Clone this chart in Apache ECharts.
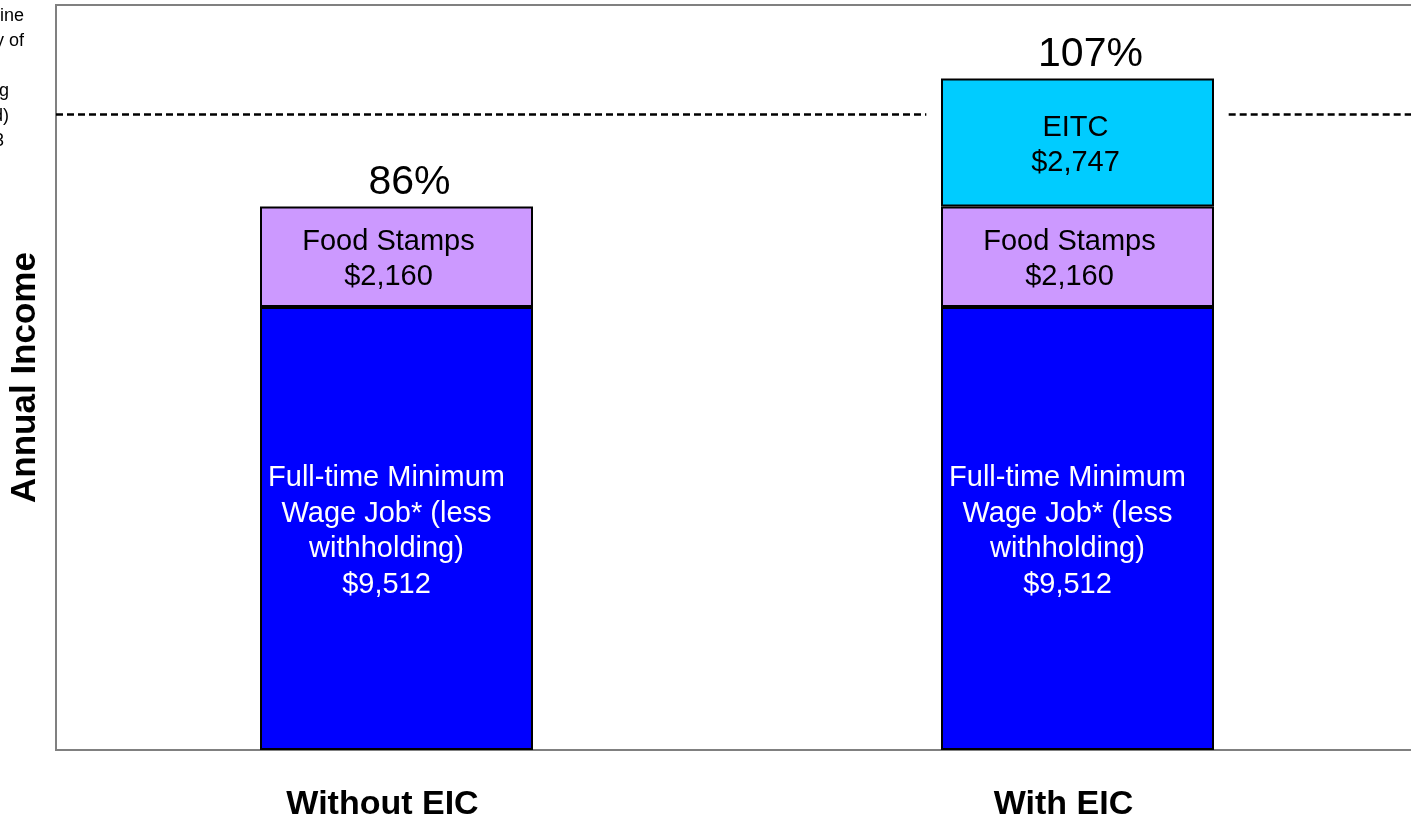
<!DOCTYPE html>
<html>
<head>
<meta charset="utf-8">
<script src="https://cdn.jsdelivr.net/npm/echarts@6/dist/echarts.min.js"></script>
<style>
  html, body { margin: 0; padding: 0; background: #fff; }
  #chart { width: 1411px; height: 818px; }
</style>
</head>
<body>
<div id="chart"></div>
<script>
// data
var categories = ['Without EIC', 'With EIC']
var wageJob = [9512, 9512]
var foodStamps = [2160, 2160]
var eitc = [0, 2747]
var totalPct = ['86%', '107%']
var povertyLine = 13650
// dashed line is broken around the second bar (x in category units, 0..2)
var povertyLeft = [[0, povertyLine], [1.278, povertyLine]]
var povertyRight = [[1.722, povertyLine], [2, povertyLine]]
// note at the top left, mostly cut off by the page edge
var noteLines = ['Poverty Line', 'for a family of', '', '(excluding   ', 'threshold)   ', '2003    ']

var chart = echarts.init(document.getElementById('chart'))

var font = 'Liberation Sans, Arial, sans-serif'

function money(v) {
  return '$' + v.toLocaleString('en-US')
}

var option = {
  animation: false,
  textStyle: { fontFamily: font },
  grid: {
    left: 56, top: 5, right: -7, bottom: 68,
    outerBoundsMode: 'none', containLabel: false,
    show: true, borderColor: '#808080', borderWidth: 2,
    backgroundColor: 'transparent'
  },
  xAxis: [{
    type: 'category',
    data: categories,
    axisLine: { show: false },
    axisTick: { show: false },
    axisLabel: {
      color: '#000', fontSize: 34, fontWeight: 'bold',
      margin: 38, padding: [0, 28, 0, 0], fontFamily: font
    }
  }, {
    type: 'value', min: 0, max: 2, show: false
  }],
  yAxis: {
    type: 'value', min: 0, max: 16000,
    name: 'Annual Income', nameLocation: 'middle', nameGap: 13,
    nameTextStyle: { color: '#000', fontSize: 35, fontWeight: 'bold', fontFamily: font },
    axisLine: { show: false }, axisTick: { show: false },
    axisLabel: { show: false }, splitLine: { show: false }
  },
  series: [{
    type: 'line', xAxisIndex: 1, data: povertyLeft, symbol: 'none', z: 1,
    lineStyle: { color: '#000', width: 2.5, type: [7, 4] }
  }, {
    type: 'line', xAxisIndex: 1, data: povertyRight, symbol: 'none', z: 1,
    lineStyle: { color: '#000', width: 2.5, type: [7, 4] }
  }, {
    name: 'Wage', type: 'bar', stack: 'inc', barWidth: 273, z: 3,
    data: wageJob,
    itemStyle: { color: '#0000FF', borderColor: '#000', borderWidth: 2 },
    label: {
      show: true, position: 'inside', color: '#fff', fontSize: 29, lineHeight: 35.5,
      offset: [-10, 3], fontFamily: font,
      formatter: function (p) {
        return 'Full-time Minimum\nWage Job* (less\nwithholding)\n' + money(p.value)
      }
    }
  }, {
    name: 'Food', type: 'bar', stack: 'inc', z: 3,
    data: foodStamps,
    itemStyle: { color: '#CC99FF', borderColor: '#000', borderWidth: 2 },
    label: {
      show: true, position: 'inside', color: '#000', fontSize: 29, lineHeight: 35,
      offset: [-8, 3], fontFamily: font,
      formatter: function (p) { return 'Food Stamps\n' + money(p.value) }
    }
  }, {
    name: 'EITC', type: 'bar', stack: 'inc', z: 3,
    data: eitc.map(function (v) { return v || '-' }),
    itemStyle: { color: '#00CCFF', borderColor: '#000', borderWidth: 2 },
    label: {
      show: true, position: 'inside', color: '#000', fontSize: 29, lineHeight: 35,
      offset: [-2, 3], fontFamily: font,
      formatter: function (p) { return 'EITC\n' + money(p.value) }
    }
  }, {
    name: 'Total', type: 'bar', stack: 'inc', z: 3,
    data: categories.map(function () { return 0 }),
    itemStyle: { color: 'transparent', borderWidth: 0 },
    label: {
      show: true, position: 'top', color: '#000', fontSize: 41, distance: 3,
      offset: [13, 0], fontFamily: font,
      formatter: function (p) { return totalPct[p.dataIndex] }
    }
  }],
  graphic: [{
    type: 'text', x: 24, y: 4,
    style: {
      text: noteLines.join('\n'),
      fill: '#000', fontSize: 18, lineHeight: 25, align: 'right',
      fontFamily: font
    }
  }]
}

chart.setOption(option)
</script>
</body>
</html>
